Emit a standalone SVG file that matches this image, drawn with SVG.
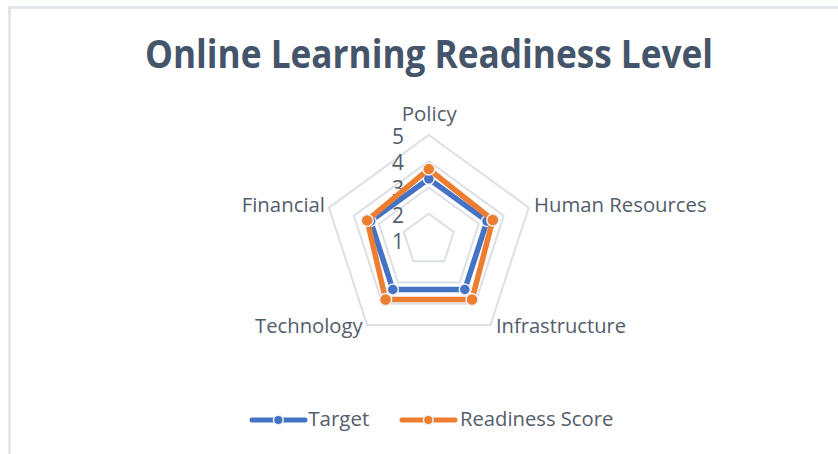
<svg xmlns="http://www.w3.org/2000/svg" width="838" height="454" viewBox="0 0 838 454">
<style>
.frame{stroke:#DDE1E8;stroke-width:2.5;fill:none}
.grid{fill:none;stroke:#DCE0E6;stroke-width:2;stroke-linejoin:miter}
.title{font-family:"Open Sans","Liberation Sans",sans-serif;font-weight:bold;font-size:39px;fill:#44546A}
.lbl{font-family:"Open Sans","Liberation Sans",sans-serif;font-size:20.5px;fill:#535D6C}
.num{font-family:"Open Sans","Liberation Sans",sans-serif;font-size:21px;fill:#535D6C}
.tgt{fill:none;stroke:#4472C4;stroke-width:5.5;stroke-linejoin:round}
.rs{fill:none;stroke:#ED7D31;stroke-width:5.5;stroke-linejoin:round}
.mt{fill:#4472C4;stroke:#EEF0F4;stroke-width:1.5}
.mr{fill:#ED7D31;stroke:#EEF0F4;stroke-width:1.5}
</style>
<rect width="838" height="454" fill="#FFFFFF"/>
<g id="frame">
<line class="frame" x1="8" y1="7.5" x2="838" y2="7.5"/>
<line class="frame" x1="9.5" y1="7" x2="9.5" y2="454"/>
</g>
<g id="title">
<text class="title" x="429" y="68" text-anchor="middle" textLength="568" lengthAdjust="spacingAndGlyphs">Online Learning Readiness Level</text>
</g>
<g id="gridlines">
<polygon class="grid" points="428.8,135 528.7,207.6 490.5,324.9 367.1,324.9 328.9,207.6"/>
<polygon class="grid" points="428.8,161.25 503.7,215.7 475.1,303.7 382.5,303.7 353.9,215.7"/>
<polygon class="grid" points="428.8,187.5 478.7,223.8 459.7,282.5 397.9,282.5 378.9,223.8"/>
<polygon class="grid" points="428.8,213.75 453.8,231.9 444.2,261.2 413.4,261.2 403.8,231.9"/>
</g>
<g id="axis-values">
<text class="num" x="404" y="144" text-anchor="end">5</text>
<text class="num" x="404" y="170.2" text-anchor="end">4</text>
<text class="num" x="404" y="196.4" text-anchor="end">3</text>
<text class="num" x="404" y="222.6" text-anchor="end">2</text>
<text class="num" x="404" y="248.8" text-anchor="end">1</text>
</g>
<g id="category-labels">
<g id="policy"><text class="lbl" x="401.7" y="121" textLength="55" lengthAdjust="spacingAndGlyphs">Policy</text></g>
<g id="human-resources"><text class="lbl" x="534" y="212.3" textLength="172.7" lengthAdjust="spacingAndGlyphs">Human Resources</text></g>
<g id="infrastructure"><text class="lbl" x="496" y="332.7" textLength="130" lengthAdjust="spacingAndGlyphs">Infrastructure</text></g>
<g id="technology"><text class="lbl" x="255" y="332.7" textLength="107.7" lengthAdjust="spacingAndGlyphs">Technology</text></g>
<g id="financial"><text class="lbl" x="241.7" y="212.3" textLength="83.3" lengthAdjust="spacingAndGlyphs">Financial</text></g>
</g>
<g id="series-target">
<polygon class="tgt" points="428.8,178.8 487,221.1 464.8,289.5 392.8,289.5 370.6,221.1"/>
<circle class="mt" cx="428.8" cy="178.8" r="5.5"/>
<circle class="mt" cx="487" cy="221.1" r="5.5"/>
<circle class="mt" cx="464.8" cy="289.5" r="5.5"/>
<circle class="mt" cx="392.8" cy="289.5" r="5.5"/>
<circle class="mt" cx="370.6" cy="221.1" r="5.5"/>
</g>
<g id="series-readiness">
<polygon class="rs" points="428.8,169.1 492.8,220 472,299.5 385.6,299.5 367.2,220.4"/>
<circle class="mr" cx="428.8" cy="169.1" r="6"/>
<circle class="mr" cx="492.8" cy="220" r="6"/>
<circle class="mr" cx="472" cy="299.5" r="6"/>
<circle class="mr" cx="385.6" cy="299.5" r="6"/>
<circle class="mr" cx="367.2" cy="220.4" r="6"/>
</g>
<g id="legend">
<g id="legend-target">
<line x1="252" y1="420" x2="305" y2="420" stroke="#4472C4" stroke-width="5" stroke-linecap="round"/>
<circle class="mt" cx="278.3" cy="420" r="4.8"/>
<text class="lbl" x="308.3" y="426" textLength="61" lengthAdjust="spacingAndGlyphs">Target</text>
</g>
<g id="legend-readiness">
<line x1="402" y1="420" x2="455" y2="420" stroke="#ED7D31" stroke-width="5" stroke-linecap="round"/>
<circle class="mr" cx="428.3" cy="420" r="4.8"/>
<text class="lbl" x="460" y="426" textLength="153.3" lengthAdjust="spacingAndGlyphs">Readiness Score</text>
</g>
</g>
</svg>
